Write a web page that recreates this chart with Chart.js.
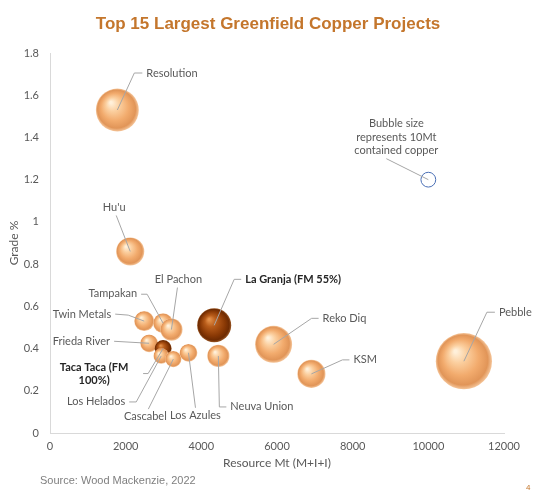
<!DOCTYPE html>
<html>
<head>
<meta charset="utf-8">
<script src="https://cdn.jsdelivr.net/npm/chart.js@4/dist/chart.umd.min.js"></script>
<style>
  html, body { margin: 0; padding: 0; background: #fff; }
  canvas { display: block; }
</style>
</head>
<body>
<canvas id="chart" width="536" height="492"></canvas>
<script>
// data
const projects = ['Resolution', "Hu'u", 'Twin Metals', 'Tampakan', 'El Pachon', 'Frieda River',
  'Taca Taca (FM 100%)', 'Los Helados', 'Cascabel', 'Los Azules', 'Neuva Union',
  'La Granja (FM 55%)', 'Reko Diq', 'KSM', 'Pebble'];
const resourceMt = [1780, 2120, 2490, 2990, 3210, 2620, 2990, 2940, 3260, 3660, 4450, 4340, 5910, 6910, 10940];
const gradePct = [1.53, 0.86, 0.53, 0.52, 0.49, 0.425, 0.40, 0.365, 0.35, 0.38, 0.365, 0.51, 0.42, 0.28, 0.34];
const containedMt = [29, 19, 13.5, 13.5, 15, 12, 11.5, 10.5, 11, 12, 15, 23, 25, 19, 38];
const fmProjects = ['La Granja (FM 55%)', 'Taca Taca (FM 100%)'];
const legendBubble = { resource: 10000, grade: 1.2, contained: 10 };
const gradeTicks = [0, 0.2, 0.4, 0.6, 0.8, 1, 1.2, 1.4, 1.6, 1.8];
const resourceTicks = [0, 2000, 4000, 6000, 8000, 10000, 12000];

const PX_PER_MT = 0.74;

// label placement, offsets from the bubble centre (text pos, leader path)
const labelLayout = {
  'Resolution':          { text: ['Resolution'], dx: 29, dy: -37, align: 'left', path: [[25, -37], [17, -37]] },
  "Hu'u":                { text: ["Hu'u"], dx: -16, dy: -44, align: 'center', path: [[-14, -36]] },
  'Twin Metals':         { text: ['Twin Metals'], dx: -33, dy: -7, align: 'right', path: [[-29, -7], [-16, -6]] },
  'Tampakan':            { text: ['Tampakan'], dx: -26, dy: -30, align: 'right', path: [[-22, -29], [-16, -29]] },
  'El Pachon':           { text: ['El Pachon'], dx: 7, dy: -50, align: 'center', path: [[6, -42]] },
  'Frieda River':        { text: ['Frieda River'], dx: -39, dy: -2, align: 'right', path: [[-35, -2]] },
  'Taca Taca (FM 100%)': { text: ['Taca Taca (FM', '100%)'], dx: -69, dy: 19, align: 'center', path: [[-20, 25], [-15, 25]] },
  'Los Helados':         { text: ['Los Helados'], dx: -36, dy: 46, align: 'right', path: [[-32, 46], [-25, 46]] },
  'Cascabel':            { text: ['Cascabel'], dx: -28, dy: 57, align: 'center', path: [[-25, 50]] },
  'Los Azules':          { text: ['Los Azules'], dx: 7, dy: 63, align: 'center', path: [[7, 55]] },
  'Neuva Union':         { text: ['Neuva Union'], dx: 12, dy: 51, align: 'left', path: [[8, 51], [1, 51]] },
  'La Granja (FM 55%)':  { text: ['La Granja (FM 55%)'], dx: 31, dy: -46, align: 'left', path: [[27, -46], [20, -46]] },
  'Reko Diq':            { text: ['Reko Diq'], dx: 49, dy: -26, align: 'left', path: [[45, -26], [38, -26]] },
  'KSM':                 { text: ['KSM'], dx: 42, dy: -14, align: 'left', path: [[38, -14], [31, -14]] },
  'Pebble':              { text: ['Pebble'], dx: 35, dy: -49, align: 'left', path: [[31, -49], [23, -49]] }
};

const FONT = 'Lato, "Noto Sans", sans-serif';

function sphereFill(context) {
  const chart = context.chart;
  const raw = context.raw;
  const dark = fmProjects.includes(projects[context.dataIndex]);
  const flat = dark ? '#8c3a06' : '#f2aa6c';
  if (!raw || !chart.scales.x || !chart.scales.y) return flat;
  const x = chart.scales.x.getPixelForValue(raw.x);
  const y = chart.scales.y.getPixelForValue(raw.y);
  const r = raw.r;
  if (![x, y, r].every(Number.isFinite)) return flat;
  const g = chart.ctx.createRadialGradient(x - r * 0.3, y - r * 0.35, r * 0.05, x, y, r);
  if (dark) {
    g.addColorStop(0, '#e4914a');
    g.addColorStop(0.3, '#b85c1a');
    g.addColorStop(0.7, '#8a3905');
    g.addColorStop(0.9, '#6e2b02');
    g.addColorStop(1, '#9b5826');
  } else {
    g.addColorStop(0, '#fff0da');
    g.addColorStop(0.28, '#fbcf9f');
    g.addColorStop(0.62, '#f2ab6d');
    g.addColorStop(0.88, '#e19558');
    g.addColorStop(1, '#f5c69b');
  }
  return g;
}

const projectPoints = projects.map((p, i) => ({
  x: resourceMt[i], y: gradePct[i], r: containedMt[i] * PX_PER_MT
}));

const labelsPlugin = {
  id: 'labels',
  afterDatasetsDraw(chart) {
    const ctx = chart.ctx;
    const meta = chart.getDatasetMeta(0);
    ctx.save();
    projects.forEach((name, i) => {
      const el = meta.data[i];
      const lay = labelLayout[name];
      if (!el || !lay) return;
      const bold = fmProjects.includes(name);
      // leader line
      ctx.strokeStyle = '#a6a6a6';
      ctx.lineWidth = 1;
      ctx.beginPath();
      lay.path.forEach((p, k) => {
        if (k === 0) ctx.moveTo(el.x + p[0], el.y + p[1]);
        else ctx.lineTo(el.x + p[0], el.y + p[1]);
      });
      ctx.lineTo(el.x, el.y);
      ctx.stroke();
      // text
      ctx.font = (bold ? 'bold ' : '') + '11px ' + FONT;
      ctx.fillStyle = bold ? '#262626' : '#595959';
      ctx.textAlign = lay.align;
      ctx.textBaseline = 'middle';
      lay.text.forEach((t, k) => ctx.fillText(t, el.x + lay.dx, el.y + lay.dy + k * 13));
    });

    // size legend
    const lm = chart.getDatasetMeta(1).data[0];
    if (lm) {
      ctx.strokeStyle = '#a6a6a6';
      ctx.beginPath();
      ctx.moveTo(lm.x - 42, lm.y - 21);
      ctx.lineTo(lm.x, lm.y);
      ctx.stroke();
      ctx.font = '11px ' + FONT;
      ctx.fillStyle = '#595959';
      ctx.textAlign = 'center';
      ['Bubble size', 'represents 10Mt', 'contained copper'].forEach((t, k) =>
        ctx.fillText(t, lm.x - 32, lm.y - 56 + k * 13.5));
    }

    // title, source, page no.
    ctx.font = 'bold 17px "Liberation Sans", Arial, sans-serif';
    ctx.fillStyle = '#c4762c';
    ctx.textAlign = 'center';
    ctx.fillText('Top 15 Largest Greenfield Copper Projects', 268, 24);
    ctx.font = '11px "Liberation Sans", Arial, sans-serif';
    ctx.fillStyle = '#7f7f7f';
    ctx.textAlign = 'left';
    ctx.fillText('Source: Wood Mackenzie, 2022', 40, 481);
    ctx.font = '8px "Liberation Sans", Arial, sans-serif';
    ctx.fillStyle = '#c4762c';
    ctx.fillText('4', 526, 488);
    ctx.restore();
  }
};

new Chart(document.getElementById('chart'), {
  type: 'bubble',
  data: {
    datasets: [{
      label: 'Projects',
      data: projectPoints,
      backgroundColor: sphereFill,
      borderWidth: 0,
      clip: false
    }, {
      label: 'Size legend',
      data: [{ x: legendBubble.resource, y: legendBubble.grade, r: legendBubble.contained * PX_PER_MT }],
      backgroundColor: 'rgba(0,0,0,0)',
      borderColor: '#4a6fb5',
      borderWidth: 1,
      clip: false
    }]
  },
  options: {
    responsive: false,
    animation: false,
    events: [],
    layout: { padding: { top: 53, right: 32, left: 0, bottom: 0 } },
    plugins: {
      legend: { display: false },
      title: { display: false },
      tooltip: { enabled: false }
    },
    scales: {
      x: {
        type: 'linear',
        min: 0,
        max: 12000,
        afterBuildTicks: s => { s.ticks = resourceTicks.map(v => ({ value: v })); },
        afterFit: s => { s.height = 59; },
        grid: { display: false, drawTicks: false },
        border: { display: true, color: '#d9d9d9', width: 1 },
        ticks: {
          padding: 7,
          color: '#595959',
          font: { family: FONT, size: 11 },
          callback: v => String(v)
        },
        title: {
          display: true,
          text: 'Resource Mt (M+I+I)',
          color: '#595959',
          font: { family: FONT, size: 12 },
          padding: { top: 0, bottom: 22 }
        }
      },
      y: {
        type: 'linear',
        min: 0,
        max: 1.8,
        afterBuildTicks: s => { s.ticks = gradeTicks.map(v => ({ value: v })); },
        afterFit: s => { s.width = 50; },
        grid: { display: false, drawTicks: false },
        border: { display: true, color: '#d9d9d9', width: 1 },
        ticks: {
          padding: 11,
          color: '#595959',
          font: { family: FONT, size: 11 },
          callback: v => String(v)
        },
        title: {
          display: true,
          text: 'Grade %',
          color: '#595959',
          font: { family: FONT, size: 12 },
          padding: { top: 7, bottom: 0 }
        }
      }
    }
  },
  plugins: [labelsPlugin]
});
</script>
</body>
</html>
